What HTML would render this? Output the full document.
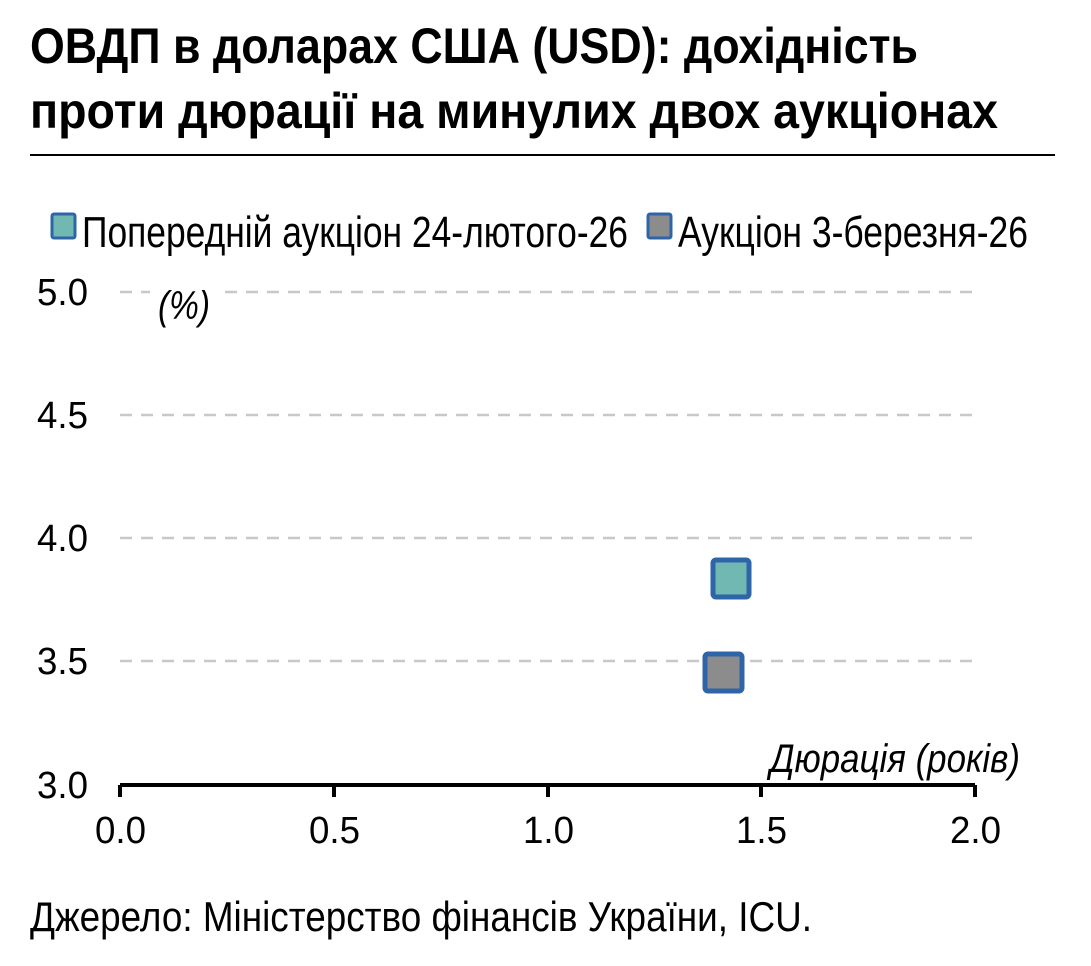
<!DOCTYPE html>
<html><head><meta charset="utf-8"><style>
body{margin:0;background:#fff}
svg{display:block}
text{font-family:"Liberation Sans Narrow","Liberation Sans",sans-serif;fill:#000}
</style></head><body>
<svg width="1091" height="966" viewBox="0 0 1091 966">
<text x="30" y="63" font-size="50" font-weight="bold" textLength="888" lengthAdjust="spacingAndGlyphs">ОВДП в доларах США (USD): дохідність</text>
<text x="30" y="128" font-size="50" font-weight="bold" textLength="968" lengthAdjust="spacingAndGlyphs">проти дюрації на минулих двох аукціонах</text>
<line x1="30" y1="155" x2="1055" y2="155" stroke="#000" stroke-width="2"/>
<rect x="52" y="214" width="23" height="24" fill="#72b8b2" stroke="#2e64a8" stroke-width="3" rx="2"/>
<text x="82" y="247" font-size="44" textLength="546" lengthAdjust="spacingAndGlyphs">Попередній аукціон 24-лютого-26</text>
<rect x="648" y="214" width="23" height="24" fill="#8c8c8c" stroke="#2e64a8" stroke-width="3" rx="2"/>
<text x="678" y="247" font-size="44" textLength="350" lengthAdjust="spacingAndGlyphs">Аукціон 3-березня-26</text>
<g stroke="#c8c8c8" stroke-width="2.5" stroke-dasharray="12,9">
<line x1="120" y1="292" x2="975" y2="292"/>
<line x1="120" y1="415" x2="975" y2="415"/>
<line x1="120" y1="538" x2="975" y2="538"/>
<line x1="120" y1="661" x2="975" y2="661"/>
</g>
<rect x="150" y="282" width="70" height="42" fill="#fff"/>
<text x="158" y="319" font-size="40" font-style="italic" textLength="52" lengthAdjust="spacingAndGlyphs">(%)</text>
<g font-size="38">
<text x="37" y="305" textLength="51" lengthAdjust="spacingAndGlyphs">5.0</text>
<text x="37" y="428" textLength="51" lengthAdjust="spacingAndGlyphs">4.5</text>
<text x="37" y="551" textLength="51" lengthAdjust="spacingAndGlyphs">4.0</text>
<text x="37" y="674" textLength="51" lengthAdjust="spacingAndGlyphs">3.5</text>
<text x="37" y="798" textLength="51" lengthAdjust="spacingAndGlyphs">3.0</text>
</g>
<line x1="120" y1="785" x2="975" y2="785" stroke="#000" stroke-width="4"/>
<g stroke="#000" stroke-width="4">
<line x1="120" y1="785" x2="120" y2="797"/>
<line x1="334" y1="785" x2="334" y2="797"/>
<line x1="548" y1="785" x2="548" y2="797"/>
<line x1="761" y1="785" x2="761" y2="797"/>
<line x1="975" y1="785" x2="975" y2="797"/>
</g>
<g font-size="38">
<text x="95" y="843" textLength="51" lengthAdjust="spacingAndGlyphs">0.0</text>
<text x="309" y="843" textLength="51" lengthAdjust="spacingAndGlyphs">0.5</text>
<text x="523" y="843" textLength="51" lengthAdjust="spacingAndGlyphs">1.0</text>
<text x="736" y="843" textLength="51" lengthAdjust="spacingAndGlyphs">1.5</text>
<text x="950" y="843" textLength="51" lengthAdjust="spacingAndGlyphs">2.0</text>
</g>
<text x="770" y="772" font-size="40" font-style="italic" textLength="250" lengthAdjust="spacingAndGlyphs">Дюрація (років)</text>
<rect x="713" y="560" width="36" height="37" fill="#72b8b2" stroke="#2e64a8" stroke-width="5" rx="3"/>
<rect x="705" y="654" width="37" height="37" fill="#8c8c8c" stroke="#2e64a8" stroke-width="5" rx="3"/>
<text x="30" y="931" font-size="42" textLength="782" lengthAdjust="spacingAndGlyphs">Джерело: Міністерство фінансів України, ICU.</text>
</svg>
</body></html>
